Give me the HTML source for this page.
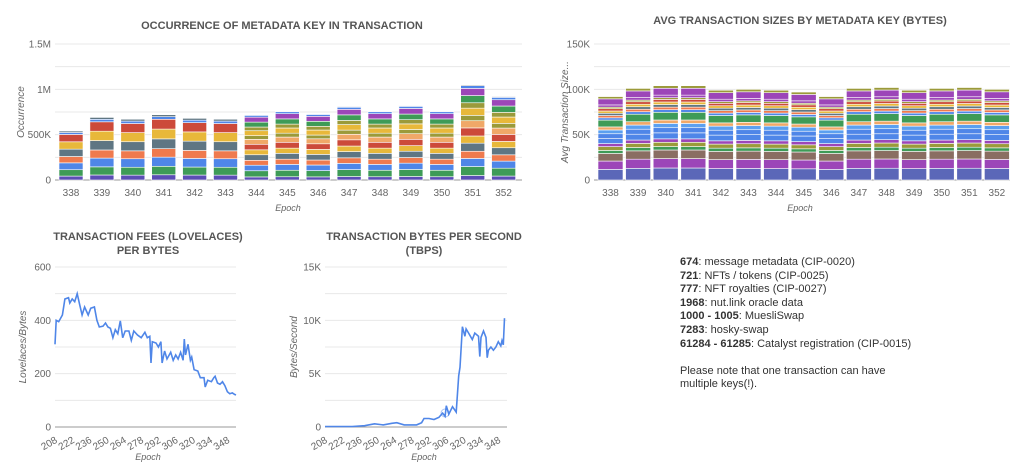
<!DOCTYPE html>
<html><head><meta charset="utf-8"><style>
body{margin:0;background:#fff;width:1024px;height:475px;overflow:hidden;font-family:"Liberation Sans",sans-serif}
svg text{font-family:"Liberation Sans",sans-serif}
.leg{position:absolute;left:680px;top:256px;font-size:11px;color:#333;line-height:13.6px}
</style></head><body>
<svg id="s" width="1024" height="475" style="position:absolute;left:0;top:0"></svg>
<div class="leg"><b>674</b>: message metadata (CIP-0020)<br><b>721</b>: NFTs / tokens (CIP-0025)<br><b>777</b>: NFT royalties (CIP-0027)<br><b>1968</b>: nut.link oracle data<br><b>1000 - 1005</b>: MuesliSwap<br><b>7283</b>: hosky-swap<br><b>61284 - 61285</b>: Catalyst registration (CIP-0015)<br><br>Please note that one transaction can have<br>multiple keys(!).</div>
<script>
const S=document.getElementById('s');let h='';
function T(x,y,t,o){o=o||{};h+=`<text x="${x}" y="${y}" font-size="${o.s||10}" fill="${o.c||'#666'}" text-anchor="${o.a||'middle'}" ${o.w?'font-weight="bold"':''} ${o.i?'font-style="italic"':''} ${o.t?'transform="'+o.t+'"':''}>${t}</text>`;}
function grid(x1,x2,y0,y1,labels,n){for(let i=0;i<=n;i++){let y=y0-(y0-y1)*i/n;h+=`<line x1="${x1}" x2="${x2}" y1="${y}" y2="${y}" stroke="${i==0?'#999':'#e8e8e8'}" stroke-width="1"/>`;if(i%2==0)T(x1-4,y+3.5,labels[i/2],{a:'end'});}}
function norm(a){let s=a.reduce((p,q)=>p+q,0);return a.map(v=>v/s);}
// chart1
T(282,29,'OCCURRENCE OF METADATA KEY IN TRANSACTION',{w:1,s:11,c:'#555'});
grid(55,522,180,44,['0','500K','1M','1.5M'],6);
T(24,112,'Occurrence',{i:1,t:'rotate(-90 24 112)'});
T(288,211,'Epoch',{i:1,s:9});
const t1=[540,690,670,720,680,670,720,760,730,810,760,820,760,1050,920];
const c1a=['#5b4eb5','#3e9b57','#4f86e8','#ef7a4e','#5f7683','#e8b83a','#cc4a3a','#4f86e8','#5f7683'];
const f1a=norm([.08,.13,.14,.13,.15,.15,.15,.04,.03]);
const c1b=['#5b4eb5','#3e9b57','#4f86e8','#ef7a4e','#5f7683','#e8b83a','#cc4a3a','#f0a868','#9b9a3a','#e8b83a','#9b9a3a','#3e9b57','#9c46b8','#4f86e8','#888'];
const f1b=norm([.05,.1,.09,.08,.09,.08,.09,.08,.06,.08,.06,.08,.08,.03,.01]);
for(let i=0;i<15;i++){let x=59+i*30.9,y=180,tot=t1[i]*136/1500;let C=i<6?c1a:c1b,F=i<6?f1a:f1b;for(let k=0;k<C.length;k++){let hh=tot*F[k];y-=hh;h+=`<rect x="${x}" y="${y}" width="24" height="${hh}" fill="${C[k]}" stroke="#fff" stroke-width="0.6"/>`;}T(x+12,196,338+i);}
// chart2
T(800,24,'AVG TRANSACTION SIZES BY METADATA KEY (BYTES)',{w:1,s:11,c:'#555'});
grid(594,1010,180,44,['0','50K','100K','150K'],6);
T(568,112,'Avg Transaction Size...',{i:1,t:'rotate(-90 568 112)'});
T(800,211,'Epoch',{i:1,s:9});
const t2=[92,101,104,104,99,100,99,97,92,101,102,99,101,102,100];
const c2=['#5b67b8','#9c46b8','#8a6e62','#3e9b57','#9b9a3a','#9c46b8','#4f86e8','#4f86e8','#5ba0f0','#f0a868','#3e9b57','#4f86e8','#ef7a4e','#5f7683','#e8b83a','#cc4a3a','#9b9a3a','#9c46b8','#9c46b8','#9b9a3a'];
const f2=norm([.14,.11,.1,.04,.05,.04,.07,.06,.05,.04,.09,.03,.03,.03,.03,.03,.02,.03,.08,.03]);
for(let i=0;i<15;i++){let x=598+i*27.6,y=180,tot=t2[i]*136/150;for(let k=0;k<c2.length;k++){let hh=tot*f2[k];y-=hh;h+=`<rect x="${x}" y="${y}" width="25" height="${hh}" fill="${c2[k]}" stroke="#fff" stroke-width="0.6"/>`;}T(x+12.5,196,338+i);}
// line charts
function line(x1,x2,y0,y1,max,data){let p=data.map(d=>[(x1+(d[0]-208)*(x2-x1)/147).toFixed(1),(y0-(y0-y1)*d[1]/max).toFixed(1)].join(',')).join(' ');h+=`<polyline points="${p}" fill="none" stroke="#4f86e8" stroke-width="1.6"/>`;}
function xt(x1,x2,y){for(let e=208;e<=348;e+=14){let x=x1+(e-208)*(x2-x1)/147;T(x+3,y,e,{a:'end',t:`rotate(-30 ${x+3} ${y})`});}}
T(148,240,'TRANSACTION FEES (LOVELACES)',{w:1,s:11,c:'#555'});T(148,254,'PER BYTES',{w:1,s:11,c:'#555'});
grid(55,236,427,267,['0','200','400','600'],6);
T(26,347,'Lovelaces/Bytes',{i:1,t:'rotate(-90 26 347)'});
xt(55,236,442);T(148,460,'Epoch',{i:1,s:9});
line(55,236,427,267,600,[[208,310],[209,400],[211,395],[214,420],[216,480],[219,485],[220,465],[222,480],[224,470],[226,500],[228,460],[230,420],[232,450],[235,420],[237,445],[240,450],[242,400],[244,375],[247,378],[249,390],[251,375],[253,370],[255,335],[257,365],[259,350],[261,398],[263,335],[265,360],[268,360],[270,325],[272,360],[275,345],[278,335],[281,355],[283,335],[285,340],[286,240],[287,320],[290,315],[292,300],[294,320],[295,240],[297,285],[299,255],[302,280],[304,250],[306,270],[308,255],[310,280],[312,250],[313,330],[314,270],[316,310],[318,250],[319,262],[321,215],[324,210],[326,185],[329,185],[330,150],[332,175],[335,170],[337,185],[338,190],[340,165],[342,160],[344,170],[346,155],[348,132],[350,125],[352,128],[354,122],[355,120]]);
T(424,240,'TRANSACTION BYTES PER SECOND',{w:1,s:11,c:'#555'});T(424,254,'(TBPS)',{w:1,s:11,c:'#555'});
grid(325,507,427,267,['0','5K','10K','15K'],6);
T(297,347,'Bytes/Second',{i:1,t:'rotate(-90 297 347)'});
xt(325,507,442);T(424,460,'Epoch',{i:1,s:9});
line(325,507,427,267,15000,[[208,50],[230,50],[240,120],[248,300],[255,200],[262,350],[266,400],[272,200],[282,200],[286,400],[288,800],[292,800],[296,700],[300,900],[303,1300],[305,1000],[306,2000],[308,1200],[311,1900],[314,1400],[316,4800],[317,5600],[319,9400],[321,8500],[322,9200],[324,8800],[327,8200],[329,8800],[332,8500],[333,6600],[334,8400],[336,9000],[338,8400],[339,6500],[340,7200],[342,7500],[344,7200],[346,7500],[348,8000],[350,7600],[351,8100],[352,7700],[353,10200]]);
h+=`<circle cx="${325+(305-208)*182/147}" cy="413" r="4" fill="none" stroke="#4f86e8" stroke-opacity=".5"/>`;
S.innerHTML=h;
</script>
</body></html>
